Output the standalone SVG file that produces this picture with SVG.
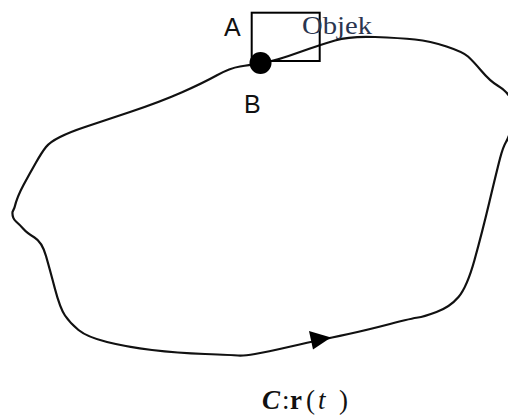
<svg xmlns="http://www.w3.org/2000/svg" width="508" height="419" viewBox="0 0 508 419">
<style>
.curve{fill:none;stroke:#111;stroke-width:2.2;stroke-linejoin:round;stroke-linecap:round}
.box{fill:none;stroke:#000;stroke-width:2}
.lbl{font-family:"Liberation Sans",Arial,sans-serif;font-size:25px;fill:#111}
.obj{font-family:"Liberation Serif","Times New Roman",serif;font-size:26px;fill:#2a3550}
.math{font-family:"Liberation Serif","Times New Roman",serif;font-size:27px;fill:#111}
</style>
<rect width="508" height="419" fill="#fff"/>
<g id="connectors">
<path id="curve-C" class="curve" d="M255.5,64 Q261,63 269,61.5 Q277,60 288.5,56 Q300,52 310,48.5 Q320,45 335,40.5 Q350,36 375,37 Q400,38 415,39.5 Q430,41 446.5,46.5 Q463,52 468,56.5 Q473,61 481.5,71 Q490,81 497.5,85.5 Q505,90 508.5,95 Q512,100 513,109 Q514,118 511.5,127.5 Q509,137 506,142 Q503,147 500,158.5 Q497,170 489.5,201.5 Q482,233 474.5,260 Q467,287 458.5,297 Q450,307 436.5,312 Q423,317 418,317.5 Q413,318 390,324 Q367,330 348.5,334 Q330,338 320,340 Q310,342 288.5,347 Q267,352 255,354 Q243,356 238,355.5 Q233,355 205,354 Q177,353 152,350 Q127,347 107,342 Q87,337 78.5,330 Q70,323 65,315.5 Q60,308 55,289 Q50,270 46,256 Q42,242 34.5,237.5 Q27,233 23.5,229 Q20,225 16,221.5 Q12,218 12.5,212 L14.5,207.5 Q17,197 23.5,185 Q30,173 36,162.5 Q42,152 46,147 Q50,142 60,137 Q70,132 85,127 Q100,122 130,112 Q160,102 181.5,92.5 Q203,83 216.5,75.5 Q230,68 240,66.5 Q250,65 255.5,64 Z"/>
<polygon id="arrow" points="331,337.5 309,331 313,349.5" fill="#000"/>
</g>
<g id="objek">
<rect class="box" x="251.7" y="12.7" width="68" height="48.3"/>
<text class="obj" x="302" y="34" textLength="70" lengthAdjust="spacingAndGlyphs">Objek</text>
</g>
<g id="A">
<text class="lbl" x="224" y="36">A</text>
</g>
<g id="B">
<circle cx="260.5" cy="63" r="11" fill="#000"/>
<text class="lbl" x="244" y="113">B</text>
</g>
<g id="label-C">
<text class="math" y="409"><tspan x="262" font-weight="bold" font-style="italic">C</tspan><tspan x="282">:</tspan><tspan x="290" font-weight="bold">r</tspan><tspan x="306">(</tspan><tspan x="318" font-style="italic">t</tspan><tspan x="339">)</tspan></text>
</g>
</svg>
